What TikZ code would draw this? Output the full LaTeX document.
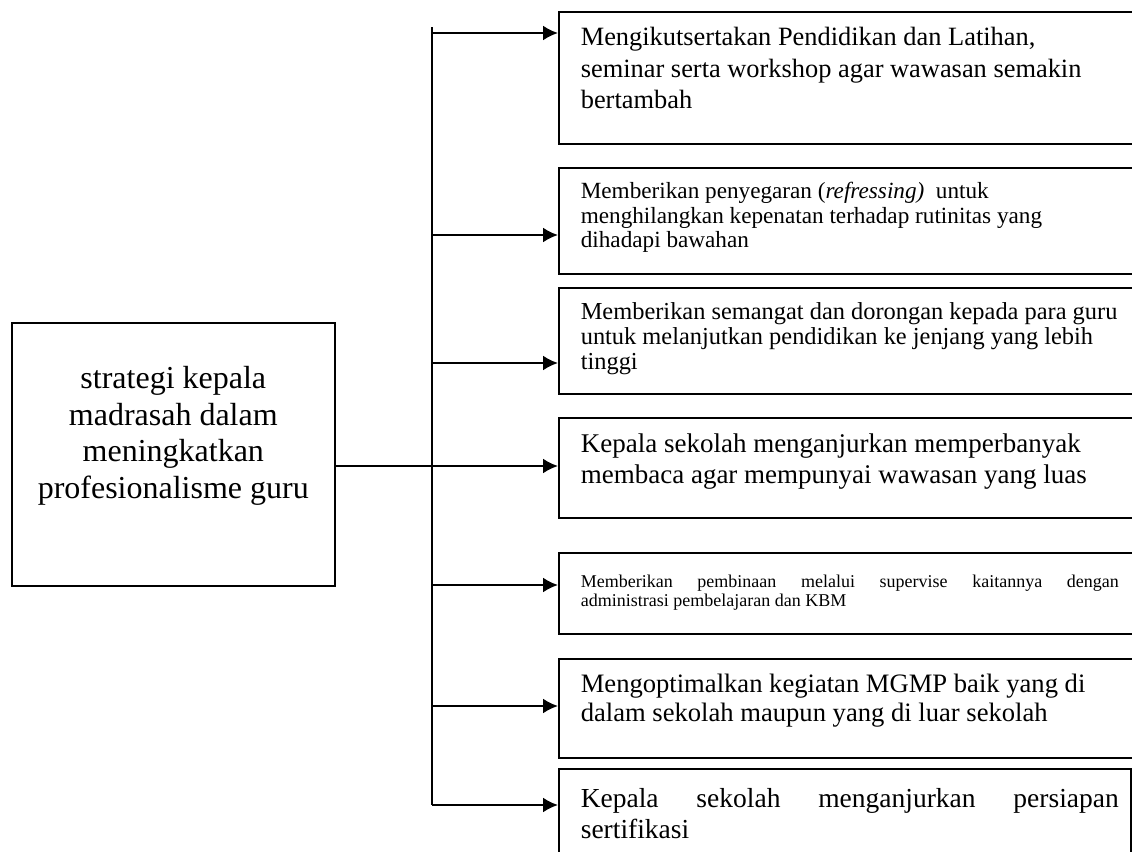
\documentclass[tikz,border=0pt]{standalone}
\usepackage{fontspec}
\setmainfont{Liberation Serif}
\usetikzlibrary{arrows.meta,positioning}

% text inside a box: height, width, size, skip, first baseline, text
\newcommand{\itemtext}[6]{\parbox[c][#1][t]{#2}{\raggedright\fontsize{#3}{#4}\selectfont\rule{0pt}{#5}#6}}

\begin{document}
\begin{tikzpicture}[x=0.5pt, y=-0.5pt,
    item/.style={draw, line width=0.8pt, anchor=north west, inner xsep=11pt, inner ysep=0pt},
    mainbox/.style={draw, line width=0.8pt, anchor=north west, inner sep=0pt},
    arr/.style={line width=1.1pt, -{Latex[length=7.5pt,width=7.5pt]}},
    trunk/.style={line width=1pt},
    link/.style={line width=0.6pt}]
  \clip (0,0) rectangle (1132,852);

  \node[mainbox] (strat) at (11,322)
    {\parbox[c][131.5pt][t]{161.5pt}{\centering\fontsize{16}{18.25}\selectfont
     \rule{0pt}{33pt}strategi kepala\\ madrasah dalam\\ meningkatkan\\ profesionalisme guru}};

  \node[item] (b1) at (558,11) {\itemtext{66pt}{274pt}{13.2}{15.75}{17pt}{%
    Mengikutsertakan Pendidikan dan Latihan,\\
    seminar serta workshop agar wawasan semakin\\
    bertambah}};
  \node[item] (b2) at (558,167) {\itemtext{53pt}{274pt}{11.6}{12.25}{15.5pt}{%
    Memberikan penyegaran (\textit{refressing)}\ \ untuk\\
    menghilangkan kepenatan terhadap rutinitas yang\\
    dihadapi bawahan}};
  \node[item] (b3) at (558,287) {\itemtext{53pt}{274pt}{12.2}{12.5}{16pt}{%
    Memberikan semangat dan dorongan kepada para guru\\
    untuk melanjutkan pendidikan ke jenjang yang lebih\\
    tinggi}};
  \node[item] (b4) at (558,417) {\itemtext{50pt}{274pt}{13.5}{15.5}{17.5pt}{%
    Kepala sekolah menganjurkan memperbanyak\\
    membaca agar mempunyai wawasan yang luas}};
  \node[item] (b5) at (558,552) {\itemtext{40.5pt}{274pt}{9}{9.5}{17.5pt}{%
    \makebox[269pt][s]{Memberikan pembinaan melalui supervise kaitannya dengan}\\
    administrasi pembelajaran dan KBM}};
  \node[item] (b6) at (558,658) {\itemtext{49.5pt}{274pt}{13.3}{14.5}{17pt}{%
    Mengoptimalkan kegiatan MGMP baik yang di\\
    dalam sekolah maupun yang di luar sekolah}};
  \node[item] (b7) at (558,768) {\itemtext{51pt}{264pt}{13.75}{15.5}{19.5pt}{%
    \makebox[264pt][l]{\makebox[269pt][s]{Kepala sekolah menganjurkan persiapan}}\\
    sertifikasi}};

  % trunk and branches
  \coordinate (ttop) at (432,27);
  \foreach \i/\y in {1/33,2/235,3/363,4/466,5/585,6/706,7/805}
    \coordinate (j\i) at (432,\y);
  \draw[trunk] (ttop) -- (j7);
  \draw[link] (strat.east |- j4) -- (j4);
  \foreach \i in {1,...,7}
    \draw[arr] (j\i) -- (j\i -| b\i.west);
\end{tikzpicture}
\end{document}
